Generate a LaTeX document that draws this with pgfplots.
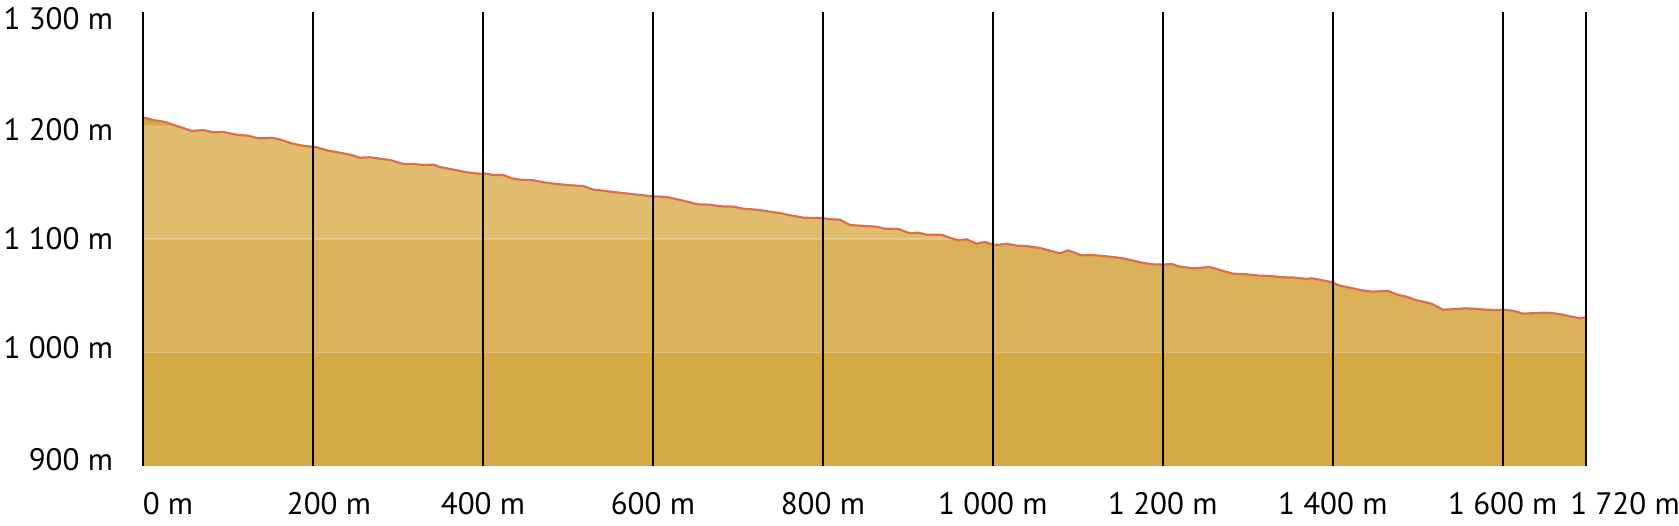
\documentclass[border=0pt]{standalone}
\usepackage{pgfplots}
\pgfplotsset{compat=1.18}
\usepackage{pgfplotstable}
\usepackage{fontspec}
\setmainfont{PT Sans}

\definecolor{bandA}{HTML}{D4A843}
\definecolor{bandB}{HTML}{DAB159}
\definecolor{bandC}{HTML}{E1BC6F}
\definecolor{ridge}{HTML}{DB7048}

\newcommand{\lift}[2]{\raisebox{#1}[\height][\depth]{#2}}

% distance (m) / elevation (m)
\pgfplotstableread{
x y
0 1207.2
12.1 1204.8
25.9 1203.1
39.6 1199.6
47.4 1197.8
57.3 1195.2
70.9 1196.0
82.7 1194.0
94.5 1194.3
110.2 1191.9
123.9 1191.0
135.6 1188.7
153.3 1189.0
163.2 1187.2
174.9 1184.3
184.7 1182.6
198.5 1181.3
204.4 1180.8
218.0 1177.8
231.8 1176.0
245.5 1174.0
255.3 1171.6
267.1 1172.0
278.8 1170.7
290.6 1169.6
306.2 1166.1
318.0 1166.1
329.8 1165.2
341.5 1165.5
349.4 1163.4
361.2 1161.7
372.9 1159.9
384.7 1158.4
398.5 1157.3
404.4 1157.5
412.1 1156.4
423.9 1156.4
433.8 1153.5
443.5 1152.2
459.2 1151.7
470.9 1150.0
486.7 1148.5
502.4 1147.3
518.0 1146.7
529.8 1143.4
537.6 1142.9
553.3 1141.4
561.2 1140.8
576.8 1139.4
588.6 1138.5
599.2 1137.6
616.1 1137.0
631.8 1134.4
643.5 1132.3
651.4 1130.6
667.1 1130.2
678.8 1128.8
694.5 1128.5
706.2 1126.7
722.0 1125.8
737.6 1124.1
753.3 1122.3
761.2 1120.9
776.8 1118.8
788.6 1118.5
799.2 1118.5
808.2 1117.4
820.0 1117.0
831.8 1112.3
843.5 1111.7
863.2 1110.8
872.9 1109.1
888.6 1108.8
902.4 1105.0
912.1 1105.6
922.0 1103.8
939.6 1103.8
949.4 1101.1
959.2 1098.9
969.1 1099.7
980.8 1095.9
990.6 1097.4
1000.4 1095.0
1008.2 1095.0
1016.1 1095.9
1027.9 1094.1
1039.6 1093.8
1055.3 1092.1
1067.1 1089.7
1078.8 1087.4
1088.6 1090.0
1104.4 1085.6
1114.1 1085.9
1125.9 1085.3
1141.5 1084.1
1157.3 1082.4
1172.9 1079.5
1186.7 1077.7
1200.4 1077.4
1210.2 1078.0
1220.0 1075.6
1235.6 1074.2
1255.3 1075.3
1267.1 1072.7
1282.7 1069.4
1298.5 1068.9
1314.1 1067.7
1325.9 1067.4
1341.5 1066.3
1357.3 1065.9
1369.1 1064.8
1374.9 1065.4
1384.7 1064.1
1399.2 1061.9
1408.2 1058.9
1420.0 1057.1
1433.8 1054.8
1447.4 1053.6
1465.1 1054.2
1476.8 1050.7
1486.7 1049.2
1496.5 1046.5
1506.2 1044.8
1516.1 1043.0
1529.8 1037.7
1541.5 1038.1
1555.3 1038.9
1565.1 1038.6
1580.8 1037.7
1592.6 1037.4
1600.4 1037.7
1612.1 1036.8
1623.9 1034.2
1639.6 1034.8
1653.3 1035.1
1667.1 1033.7
1678.8 1031.9
1690.6 1030.1
1698 1031.0
}\profile

\begin{document}
\begin{tikzpicture}
\begin{axis}[
  width=721.5pt, height=227pt, scale only axis,
  xmin=0, xmax=1698, ymin=900, ymax=1300,
  axis line style={draw=none},
  tick style={draw=none},
  xtick={0,200,400,600,800,1000,1200,1400,1600,1698},
  xticklabels={\hspace*{25pt}0 m,\hspace*{16pt}200 m,400 m,600 m,800 m,1 000 m,1 200 m,1 400 m,1 600 m,\hspace*{39pt}1 720 m},
  ytick={900,1000,1100,1200,1300},
  yticklabels={\lift{3pt}{900 m},\lift{2.3pt}{1 000 m},\lift{0.3pt}{1 100 m},\lift{-2.2pt}{1 200 m},\lift{-3.2pt}{1 300 m}},
  xmajorgrids,
  grid style={black, line width=1.2pt},
  axis on top,
  tick label style={font=\fontsize{15.5}{18}\selectfont},
  yticklabel style={xshift=-11.5pt},
  xticklabel style={yshift=-9.6pt},
]
  % elevation bands
  \addplot[draw=none, fill=bandA] table {\profile} \closedcycle;
  \addplot[draw=none, fill=bandC, y filter/.expression={min(y,1200)}] table {\profile} \closedcycle;
  \addplot[draw=none, fill=bandB, y filter/.expression={min(y,1100)}] table {\profile} \closedcycle;
  \addplot[draw=none, fill=bandA, y filter/.expression={min(y,1000)}] table {\profile} \closedcycle;
  \addplot[draw=white, draw opacity=0.25, line width=0.6pt] coordinates {(0,1000) (1698,1000)};
  \addplot[draw=white, draw opacity=0.25, line width=0.6pt] coordinates {(0,1100) (954,1100)};
  % profile
  \addplot[ridge, line width=1.1pt] table {\profile};
  \coordinate (bl) at (rel axis cs:0,0);
  \coordinate (tr) at (rel axis cs:1,1);
\end{axis}
\pgfresetboundingbox
\path[use as bounding box] ([shift={(-71.5pt,-30pt)}]bl) rectangle ([shift={(46.5pt,6pt)}]tr);
\end{tikzpicture}
\end{document}
